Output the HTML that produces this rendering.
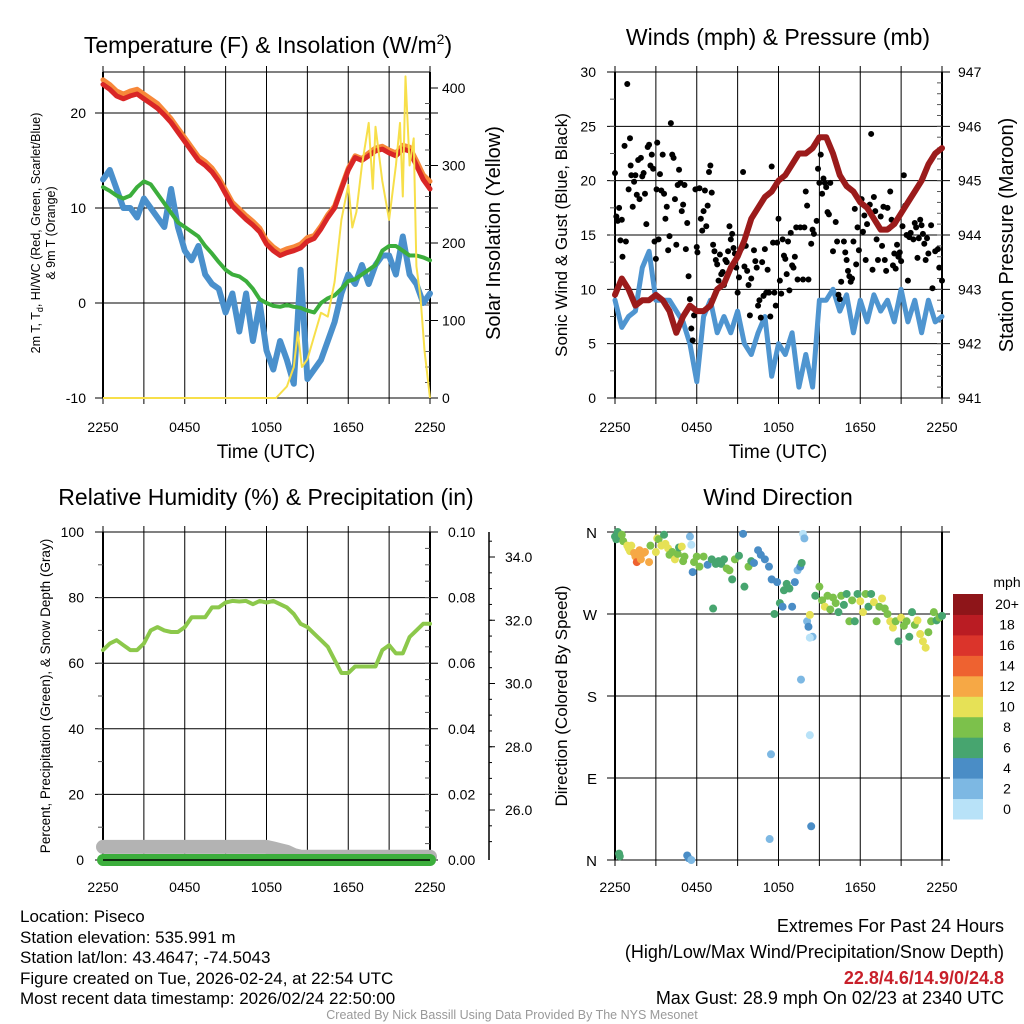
<!DOCTYPE html>
<html><head><meta charset="utf-8">
<style>
html,body{margin:0;padding:0;background:#fff;}
svg{display:block;font-family:"Liberation Sans",Arial,sans-serif;}
</style></head>
<body>
<svg id="chart" width="1024" height="1024" viewBox="0 0 1024 1024" xmlns="http://www.w3.org/2000/svg">
<rect x="0" y="0" width="1024" height="1024" fill="#fff"/>
<g id="g1"></g>
<g id="g2"></g>
<g id="g3"></g>
<g id="g4"></g>
<g font-size="17" fill="#000">
<text x="20" y="922">Location: Piseco</text>
<text x="20" y="943">Station elevation: 535.991 m</text>
<text x="20" y="963">Station lat/lon: 43.4647; -74.5043</text>
<text x="20" y="984">Figure created on Tue, 2026-02-24, at 22:54 UTC</text>
<text x="20" y="1004">Most recent data timestamp: 2026/02/24 22:50:00</text>
</g>
<g font-size="18" text-anchor="end">
<text x="1004" y="932">Extremes For Past 24 Hours</text>
<text x="1004" y="958">(High/Low/Max Wind/Precipitation/Snow Depth)</text>
<text x="1004" y="984" fill="#c8202a" font-weight="bold">22.8/4.6/14.9/0/24.8</text>
<text x="1004" y="1004">Max Gust: 28.9 mph On 02/23 at 2340 UTC</text>
</g>
<text x="512" y="1019" font-size="12.5" fill="#999" text-anchor="middle">Created By Nick Bassill Using Data Provided By The NYS Mesonet</text>
</svg>
<script>
// ---------- data ----------
const hours = [];
for (let i = 0; i <= 48; i++) hours.push(i * 0.5);
const timeTickLabels = ["2250","0450","1050","1650","2250"];
const tempTicks = [-10,0,10,20];
const solarTicks = [0,100,200,300,400];
const tempRed = [23,22.5,21.8,21.5,21.8,22,21.5,21,20.5,19.8,19,18,17,16,15,14.5,13.8,12.8,11.5,10.2,9.5,8.8,8.2,7.5,6.2,5.5,5.0,5.3,5.5,5.8,6.5,6.8,7.8,9,10,12,14,15.3,15,15.5,16,16.2,15.8,15.5,16.2,16,14.5,13,12];
const tempOrange = [23.5,23,22.3,22,22.3,22.5,22,21.5,21,20.2,19.4,18.4,17.4,16.4,15.4,14.9,14.2,13.2,11.9,10.6,9.9,9.2,8.6,7.9,6.6,5.9,5.4,5.7,5.9,6.2,6.9,7.1,8.1,9.3,10.2,12.2,14.2,15.5,15.2,15.8,16.3,16.5,16.1,15.8,16.6,16.4,15,13.5,12.8];
const dewGreen = [12.2,11.8,11.3,11,11.3,12.2,12.8,12.5,11.5,10.5,9.5,8.5,8,7.5,7,6,5.2,4.3,3.5,3,2.8,2.3,1.5,0.4,0,-0.3,-0.4,-0.2,-0.4,-0.5,-0.8,-1.0,0,0.5,0.8,1.5,2.3,2.5,3,3.5,4,5.5,6,6,5.5,5,5,4.8,4.5];
const chillBlue = [13,14,12,10,10,9,11,10,9,8,12,8,5.5,4.5,6,3,2,1.5,-1,1,-3,1,-4,0,-5,-7,-4,-6,-8.5,3.5,-8,-7,-6,-4,-2,1,3,2,4,2,4,5,5,3,7,3,2,0,1];
const solarTimes = [0,12.7,13.5,14,14.3,14.6,15,15.5,16,16.5,17,17.5,18,18.3,18.6,19,19.5,19.8,20,20.5,21,21.5,21.8,22,22.2,22.5,22.8,23,23.3,23.6,24];
const solarValues = [0,0,15,40,85,40,50,80,110,105,150,230,275,220,240,300,355,270,350,280,230,300,355,260,415,300,335,170,130,60,0];

const windTicks = [0,5,10,15,20,25,30];
const pressTicks = [941,942,943,944,945,946,947];
const windBlue = [9,6.5,7.5,8,12,13.5,9,9,9,8,7,5,1.5,7.5,9,6,7.5,6,8,5,4,6,7.5,2,5,4,6,1,4,1,9,9,10,8,9.5,6,9,7,9.5,8,9,7,10,7,9,6,9,7,7.5];
const pressure = [942.9,943.2,943.0,942.7,942.8,942.8,942.9,942.8,942.6,942.2,942.5,942.7,942.6,942.6,942.7,943,943.1,943.4,943.6,943.9,944.3,944.5,944.7,944.8,945,945.1,945.3,945.5,945.5,945.6,945.8,945.8,945.5,945.1,944.9,944.8,944.6,944.5,944.3,944.1,944.1,944.2,944.4,944.6,944.8,945,945.3,945.5,945.6];
const gustTimes = [0.0,0.1,0.2,0.3,0.4,0.5,0.55,0.7,0.8,0.9,1.0,1.1,1.15,1.2,1.3,1.4,1.5,1.6,1.7,1.8,1.9,2.0,2.1,2.2,2.3,2.4,2.5,2.6,2.7,2.8,2.9,3.0,3.05,3.1,3.2,3.3,3.4,3.5,3.6,3.7,3.8,3.9,4.0,4.1,4.2,4.3,4.4,4.5,4.6,4.7,4.8,4.9,5.0,5.1,5.2,5.3,5.4,5.5,5.6,5.7,5.8,5.9,6.0,6.05,6.2,6.3,6.4,6.5,6.6,6.7,6.8,6.9,7.0,7.1,7.2,7.3,7.4,7.5,7.6,7.7,7.8,7.9,8.0,8.1,8.2,8.3,8.4,8.5,8.6,8.7,8.8,8.9,9.0,9.1,9.3,9.4,9.5,9.6,9.7,9.8,9.9,10.0,10.2,10.3,10.4,10.5,10.6,10.7,10.8,10.9,11.0,11.1,11.2,11.3,11.4,11.5,11.6,11.7,11.8,11.9,12.0,12.1,12.2,12.3,12.4,12.5,12.6,12.7,12.8,12.9,13.0,13.1,13.2,13.3,13.4,13.6,13.8,13.9,14.0,14.1,14.2,14.4,14.5,14.6,14.8,14.9,15.0,15.1,15.2,15.3,15.4,15.5,15.6,15.7,15.8,16.0,16.2,16.3,16.4,16.5,16.6,16.8,16.9,17.0,17.1,17.2,17.3,17.4,17.5,17.6,17.7,17.8,17.9,18.1,18.2,18.3,18.4,18.5,18.7,18.8,18.9,19.0,19.1,19.2,19.3,19.5,19.6,19.7,19.8,19.9,20.0,20.1,20.2,20.3,20.4,20.5,20.6,20.7,20.8,20.9,21.0,21.1,21.2,21.3,21.4,21.5,21.6,21.7,21.9,22.0,22.1,22.2,22.3,22.4,22.5,22.6,22.7,22.8,22.9,23.0,23.2,23.3,23.5,23.7,23.8,24.0];
const gustValues = [20.7,16.7,16.3,17.5,14.5,16.4,13,23.2,14.4,28.9,19.2,23.9,21.4,20.5,17.6,19.9,20.5,18.7,21.9,18.3,22.1,20.4,20.7,18.8,16,23.1,23.3,21.4,22.4,21.1,14.4,12.8,19.2,23.5,14.6,20.6,19.1,22.4,18.8,16.5,17.6,13.6,14.9,25.3,22.4,22.1,18.3,14.1,19.6,21,19.8,17.2,17.8,19.6,13.7,16.1,11.2,9.1,6.4,5.3,7.6,19.2,13.9,13.4,19.3,16.5,15.4,17.2,19.1,15.8,17.7,20.8,21.4,18.9,14.1,13.5,12.7,12.3,10.8,13.2,11.4,11.6,10.4,12.7,12.5,13.5,15.8,14.6,15.1,13.8,13.3,12,9.7,11.1,13.8,20.8,12.1,14,11.7,10.4,7.6,11,13.6,12.6,12,8.5,9,7.4,12.5,9.4,13.7,9.7,11.8,9.7,7.5,21.3,14.3,9.7,8.5,14.3,16.5,10.8,9.6,14.6,13.1,12.8,11.4,14.4,9.9,15.2,12.2,12,13,15.7,10.9,15.7,10.9,15.7,19,17.7,10.9,14.2,15.5,15.1,16.3,21.1,19.8,22.4,18.8,20.2,19.8,19.4,17.1,16.9,19.8,13.5,16.2,14.4,9.5,9.1,10.7,14.4,13.4,12.7,11.7,11.2,10.7,11,14.4,17.4,12.3,15.7,13.6,18.3,15.3,16.8,12.7,16,17.8,24.3,11.8,18.5,17.2,14.6,12.7,16.7,14,17.6,12.7,11.7,17.5,15.6,19,16.4,12.2,13.3,11.9,14.1,13,13.4,12.6,15.8,20.5,17.7,15,10.8,14.8,15.2,14.6,16.1,15.7,12.9,14.7,16.4,15.9,15.1,14.2,12.7,14.7,13.3,15.9,10.1,13.5,13.7,12,10.8];

const rhTicks = [0,20,40,60,80,100];
const precipTicks = ["0.00","0.02","0.04","0.06","0.08","0.10"];
const snowTicks = ["26.0","28.0","30.0","32.0","34.0"];
const snowTickValues = [26,28,30,32,34];
const rh = [64,66,67,65.5,64,64,66,70,71,70,69.5,69.5,71,74,74,74,77,77,78.5,79,78.8,79,78,79,78.5,79,78,77,75,72,71,69,67,65,61,57,57,59,59,59,59,64,65.5,63,63,68,70,72,72];
const snowDepth = [4,4,4,4,4,4,4,4,4,4,4,4,4,4,4,4,4,4,4,4,4,4,4,4,4,3.5,3,2.5,1.5,1,1,1,1,1,1,1,1,1,1,1,1,1,1,1,1,1,1,1,1];
const precip = hours.map(() => 0);

const dirTickLabels = ["N","E","S","W","N"];
const dirTickValues = [0,90,180,270,360];
const speedLabels = ["0","2","4","6","8","10","12","14","16","18","20+"];
const speedColors = ["#b8e2f8","#7db8e3","#4a8dc6","#47a56f","#7cc14b","#e6e156","#f6a845","#ee6230","#db342b","#ba1c23","#8e1519"];
const dirTimes = [0.0,0.1,0.2,0.5,0.6,0.9,1.0,1.1,1.2,1.4,1.5,1.6,1.7,1.8,1.9,2.1,2.2,2.5,2.6,3.0,3.1,3.2,3.4,3.6,3.7,3.9,4.0,4.2,4.4,4.6,4.7,4.9,5.0,5.1,5.5,5.6,5.7,5.8,6.0,6.2,6.5,6.8,7.1,7.2,7.4,7.6,7.8,8.0,8.2,8.4,8.6,8.8,9.1,9.4,9.5,9.8,10.0,10.2,10.5,10.7,11.0,11.3,11.5,11.7,11.9,12.1,12.3,12.4,12.6,12.8,13.0,13.2,13.4,13.6,13.7,13.8,13.9,14.1,14.2,14.3,14.5,13.65,11.45,14.3,11.35,14.4,0.3,0.35,5.3,5.4,5.6,14.3,14.7,15.0,15.2,15.4,15.6,15.8,16.0,16.2,16.4,16.6,16.8,17.0,17.2,17.4,17.6,17.8,18.0,18.2,18.4,18.6,18.8,19.0,19.2,19.4,19.6,19.8,20.0,20.2,20.4,20.6,20.8,21.0,21.2,21.4,21.6,21.8,22.0,22.2,22.4,22.6,22.8,23.0,23.2,23.4,23.6,23.8,24.0];
const dirValues = [355,352,360,357,350,345,342,339,345,337,333,327,335,340,330,337,338,327,345,338,353,352,345,357,347,342,335,338,330,336,343,344,328,333,355,346,316,327,333,322,333,324,330,276,325,328,325,330,320,318,308,330,334,358,300,322,328,326,340,335,330,322,308,270,305,282,278,296,303,298,278,305,318,322,326,358,353,262,256,269,245,198,116,137,23,37,7,4,5,2,0,244,290,300,285,278,290,275,288,282,272,290,280,292,262,285,262,292,284,272,292,278,292,283,262,278,287,276,270,262,255,262,240,266,257,262,245,272,258,263,248,240,233,250,262,272,263,266,268];
const dirSpeeds = [7,6,6,8,8,10,10,10,10,12,12,15,12,12,12,12,12,12,8,10,10,8,10,7,10,10,8,8,10,8,6,10,8,9,3,1,4,8,8,9,9,5,6,6,7,7,6,6,8,8,6,9,6,4,6,8,6,4,4,5,5,4,4,6,4,6,4,6,6,6,4,4,2,4,7,1,2,2,4,10,2,2,2,1,2,4,6,6,4,4,2,1,6,8,8,10,9,9,8,8,7,8,7,6,8,8,6,6,10,10,8,7,6,10,8,9,10,8,9,10,10,8,7,10,8,8,6,6,8,10,10,10,10,8,9,8,6,8,6];

// ---------- helpers ----------
const NS = "http://www.w3.org/2000/svg";
function mk(parent, tag, attrs, text) {
  const e = document.createElementNS(NS, tag);
  for (const k in attrs) e.setAttribute(k, attrs[k]);
  if (text !== undefined) e.textContent = text;
  parent.appendChild(e);
  return e;
}
function linScale(d0, d1, r0, r1) { return v => r0 + (v - d0) / (d1 - d0) * (r1 - r0); }
function pathFrom(xs, ys, sx, sy) {
  return xs.map((t, i) => (i ? "L" : "M") + sx(t).toFixed(1) + "," + sy(ys[i]).toFixed(1)).join("");
}

function frame(g, L, T, R, B, yTicksPx, xLabelY) {
  const sx = linScale(0, 24, L, R);
  for (let h = 0; h <= 24; h += 3) {
    const gl = mk(g, "line", {x1: sx(h), x2: sx(h), y1: T - 6, y2: B + 6, stroke: "#000", "stroke-width": 1});
    
    
  }
  yTicksPx.forEach(y => {
    const hl = mk(g, "line", {x1: L - 8, x2: R + 8, y1: y, y2: y, stroke: "#000", "stroke-width": 1});
    
    
  });
  mk(g, "line", {x1: L, x2: L, y1: T, y2: B, stroke: "#000", "stroke-width": 2});
  mk(g, "line", {x1: R, x2: R, y1: T, y2: B, stroke: "#000", "stroke-width": 2});
  mk(g, "line", {x1: L, x2: R, y1: T, y2: T, stroke: "#000", "stroke-width": 1});
  mk(g, "line", {x1: L, x2: R, y1: B, y2: B, stroke: "#000", "stroke-width": 1});
  timeTickLabels.forEach((lab, i) => {
    const t = mk(g, "text", {x: sx(i * 6), y: xLabelY, "font-size": 14, "text-anchor": "middle"}, lab);
    
    
  });
  return sx;
}
function minorTicks(g, x, T, B, n, dir) {
  for (let i = 1; i < n; i++) {
    const y = T + (B - T) * i / n;
    mk(g, "line", {x1: x, x2: x + dir * 5, y1: y, y2: y, stroke: "#555", "stroke-width": 1});
  }
}

// ---------- panel 1 ----------
(function(){
  const g = document.getElementById("g1");
  const L = 103, R = 430, T = 72, B = 398;
  const sy = linScale(-10, 20, 398, 113);
  const ss = linScale(0, 400, 398, 88);
  const sx = frame(g, L, T, R, B, tempTicks.map(sy), 432);
  tempTicks.forEach(v => {
    const t = mk(g, "text", {x: 86, y: sy(v) + 5, "font-size": 14, "text-anchor": "end"}, v);
    
    
  });
  solarTicks.forEach(v => {
    mk(g, "line", {x1: R, x2: R + 8, y1: ss(v), y2: ss(v), stroke: "#000"});
    const t = mk(g, "text", {x: 442, y: ss(v) + 5, "font-size": 14}, v);
    
    
  });
  minorTicks(g, R, 88, 398, 20, -1);
  const lines = [
    [hours, chillBlue, "#4a90cc", 6, "dewpoint-chill-line"],
    [hours, dewGreen, "#3cae3c", 4, "dewpoint-line"],
    [hours, tempOrange, "#f7883a", 5, "temp-9m-line"],
    [hours, tempRed, "#d92626", 5, "temp-2m-line"]
  ];
  lines.forEach(([xs, ys, c, w, nm]) => {
    const p = mk(g, "path", {d: pathFrom(xs, ys, sx, sy), fill: "none", stroke: c, "stroke-width": w, "stroke-linejoin": "round", "stroke-linecap": "round"});
    
    
  });
  const sp = mk(g, "path", {d: pathFrom(solarTimes, solarValues, sx, ss), fill: "none", stroke: "#f7df4a", "stroke-width": 2, "stroke-linejoin": "round"});
  
  
  const tt = mk(g, "text", {x: 268, y: 53, "font-size": 23, "text-anchor": "middle"});
  
  
  tt.innerHTML = 'Temperature (F) &amp; Insolation (W/m<tspan dy="-9" font-size="14">2</tspan><tspan dy="9">)</tspan>';
  const xt = mk(g, "text", {x: 266, y: 458, "font-size": 19, "text-anchor": "middle"}, "Time (UTC)");
  
  
  const yl = mk(g, "text", {transform: "translate(40,233) rotate(-90)", "font-size": 12.5, "text-anchor": "middle"});
  
  
  yl.innerHTML = '<tspan x="0" y="0">2m T, T<tspan font-size="9" dy="3">d</tspan><tspan dy="-3">, HI/WC (Red, Green, Scarlet/Blue)</tspan></tspan><tspan x="0" y="15">&amp; 9m T (Orange)</tspan>';
  const yr = mk(g, "text", {transform: "translate(500,233) rotate(-90)", "font-size": 20, "text-anchor": "middle"}, "Solar Insolation (Yellow)");
  
  
})();

// ---------- panel 2 ----------
(function(){
  const g = document.getElementById("g2");
  const L = 615, R = 942, T = 72, B = 398;
  const sy = linScale(0, 30, 398, 72);
  const sp = linScale(941, 947, 398, 72);
  const sx = frame(g, L, T, R, B, windTicks.map(sy), 432);
  windTicks.forEach(v => {
    const t = mk(g, "text", {x: 596, y: sy(v) + 5, "font-size": 14, "text-anchor": "end"}, v);
    
    
  });
  pressTicks.forEach(v => {
    const t = mk(g, "text", {x: 958, y: sp(v) + 5, "font-size": 14}, v);
    
    
  });
  minorTicks(g, R, 72, 398, 30, -1);
  minorTicks(g, L, 72, 398, 12, -1);
  const wl = mk(g, "path", {d: pathFrom(hours, windBlue, sx, sy), fill: "none", stroke: "#4f95d0", "stroke-width": 5, "stroke-linejoin": "round", "stroke-linecap": "round"});
  
  
  gustTimes.forEach((t, i) => {
    const c = mk(g, "circle", {cx: sx(t), cy: sy(gustValues[i]), r: 3, fill: "#000"});
    
    
  });
  const pl = mk(g, "path", {d: pathFrom(hours, pressure, sx, sp), fill: "none", stroke: "#9b1b1b", "stroke-width": 6, "stroke-linejoin": "round", "stroke-linecap": "round"});
  
  
  const tt = mk(g, "text", {x: 778, y: 45, "font-size": 23, "text-anchor": "middle"}, "Winds (mph) & Pressure (mb)");
  
  
  const xt = mk(g, "text", {x: 778, y: 458, "font-size": 19, "text-anchor": "middle"}, "Time (UTC)");
  
  
  const yl = mk(g, "text", {transform: "translate(567,235) rotate(-90)", "font-size": 17, "text-anchor": "middle"}, "Sonic Wind & Gust (Blue, Black)");
  
  
  const yr = mk(g, "text", {transform: "translate(1013,235) rotate(-90)", "font-size": 20, "text-anchor": "middle"}, "Station Pressure (Maroon)");
  
  
})();

// ---------- panel 3 ----------
(function(){
  const g = document.getElementById("g3");
  const L = 103, R = 430, T = 532, B = 860;
  const sy = linScale(0, 100, 860, 532);
  const sxp = linScale(0, 0.1, 860, 532);
  const ssd = linScale(26, 34, 810, 557);
  const sx = frame(g, L, T, R, B, rhTicks.map(sy), 892);
  rhTicks.forEach(v => {
    const t = mk(g, "text", {x: 84, y: sy(v) + 5, "font-size": 14, "text-anchor": "end"}, v);
    
    
  });
  precipTicks.forEach((lab, i) => {
    const t = mk(g, "text", {x: 448, y: sxp(i * 0.02) + 5, "font-size": 14}, lab);
    
    
  });
  minorTicks(g, R, 532, 860, 20, -1);
  minorTicks(g, L, 532, 860, 10, -1);
  mk(g, "line", {x1: 489, x2: 489, y1: 532, y2: 860, stroke: "#000", "stroke-width": 1.5});
  for (let v = 25; v <= 35; v += 0.5) {
    const y = ssd(v);
    if (y < 532 || y > 860) continue;
    mk(g, "line", {x1: 489, x2: 492, y1: y, y2: y, stroke: "#000"});
  }
  snowTicks.forEach((lab, i) => {
    mk(g, "line", {x1: 489, x2: 495, y1: ssd(snowTickValues[i]), y2: ssd(snowTickValues[i]), stroke: "#000"});
    const t = mk(g, "text", {x: 505, y: ssd(snowTickValues[i]) + 5, "font-size": 14}, lab);
    
    
  });
  const sd = mk(g, "path", {d: pathFrom(hours, snowDepth, sx, sy), fill: "none", stroke: "#b3b3b3", "stroke-width": 14, "stroke-linejoin": "round", "stroke-linecap": "round"});
  
  
  const pr = mk(g, "path", {d: pathFrom(hours, precip, sx, sxp), fill: "none", stroke: "#3cae3c", "stroke-width": 12, "stroke-linecap": "round"});
  
  
  mk(g, "line", {x1: L, x2: R, y1: B, y2: B, stroke: "#000", "stroke-width": 1.5});
  const rl = mk(g, "path", {d: pathFrom(hours, rh, sx, sy), fill: "none", stroke: "#8cc84b", "stroke-width": 4, "stroke-linejoin": "round", "stroke-linecap": "round"});
  
  
  const tt = mk(g, "text", {x: 266, y: 505, "font-size": 23, "text-anchor": "middle"}, "Relative Humidity (%) & Precipitation (in)");
  
  
  const yl = mk(g, "text", {transform: "translate(50,696) rotate(-90)", "font-size": 13.5, "text-anchor": "middle"}, "Percent, Precipitation (Green), & Snow Depth (Gray)");
  
  
})();

// ---------- panel 4 ----------
(function(){
  const g = document.getElementById("g4");
  const L = 615, R = 942, T = 532, B = 860;
  const sy = linScale(0, 360, 860, 532);
  const sx = frame(g, L, T, R, B, dirTickValues.map(sy), 892);
  dirTickLabels.forEach((lab, i) => {
    const t = mk(g, "text", {x: 597, y: sy(dirTickValues[i]) + 6, "font-size": 15, "text-anchor": "end"}, lab);
    
    
  });
  dirTimes.forEach((t, i) => {
    const bin = Math.min(10, Math.floor(dirSpeeds[i] / 2));
    const c = mk(g, "circle", {cx: sx(t), cy: sy(dirValues[i]), r: 4, fill: speedColors[bin]});
    
    
  });
  const cbT = 594, cbH = 225 / 11;
  speedColors.forEach((col, i) => {
    const y = cbT + (10 - i) * cbH;
    const r = mk(g, "rect", {x: 953, y: y, width: 30, height: cbH + 0.5, fill: col});
    
    
    const t = mk(g, "text", {x: 1007, y: y + cbH / 2 + 5, "font-size": 14, "text-anchor": "middle"}, speedLabels[i]);
    
    
  });
  const mu = mk(g, "text", {x: 1007, y: 587, "font-size": 14, "text-anchor": "middle"}, "mph");
  
  
  const tt = mk(g, "text", {x: 778, y: 505, "font-size": 23, "text-anchor": "middle"}, "Wind Direction");
  
  
  const yl = mk(g, "text", {transform: "translate(567,696) rotate(-90)", "font-size": 17, "text-anchor": "middle"}, "Direction (Colored By Speed)");
  
  
})();
</script>
</body></html>
